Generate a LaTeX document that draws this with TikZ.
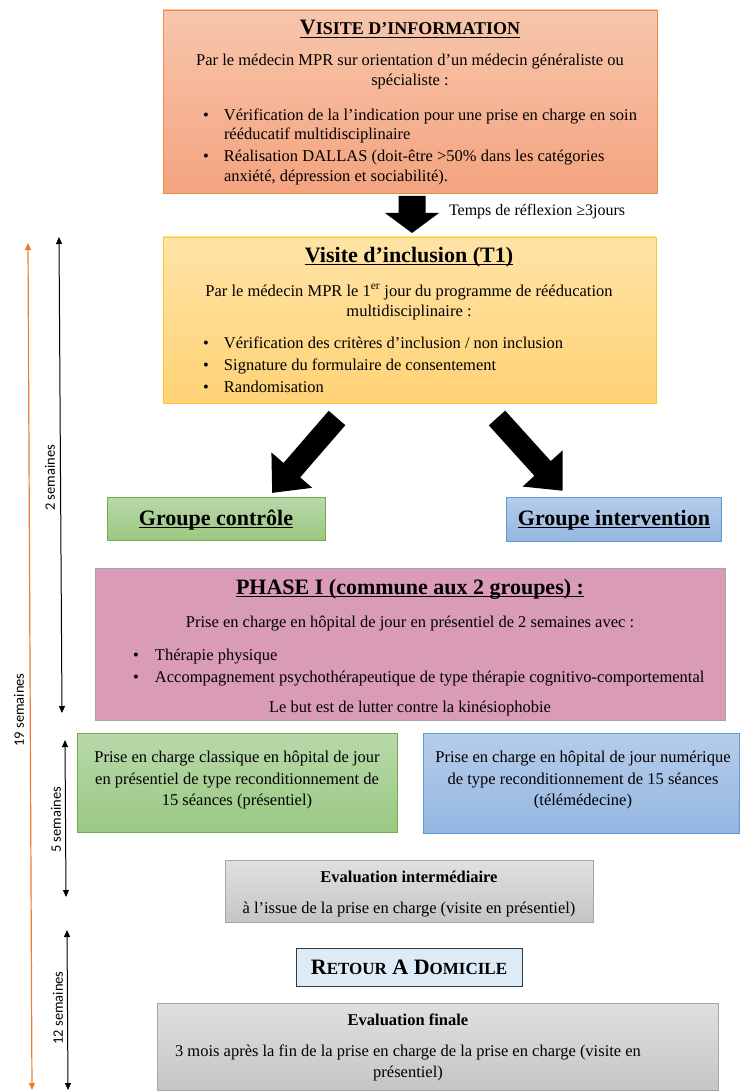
\documentclass[tikz,border=0pt]{standalone}
\usepackage{fontspec}
\setmainfont{Liberation Serif}
\newfontfamily\calib{Carlito}
\usetikzlibrary{arrows.meta,calc}
\definecolor{infoT}{HTML}{F7C6AC}
\definecolor{infoB}{HTML}{F4A37F}
\definecolor{infoD}{HTML}{F08A4B}
\definecolor{inclT}{HTML}{FFE3A6}
\definecolor{inclB}{HTML}{FFD375}
\definecolor{inclD}{HTML}{FFC62E}
\definecolor{grnT}{HTML}{B8D9AA}
\definecolor{grnB}{HTML}{9BC883}
\definecolor{grnD}{HTML}{70AD47}
\definecolor{bluT}{HTML}{B7CDEA}
\definecolor{bluB}{HTML}{94B6E1}
\definecolor{bluD}{HTML}{5B9BD5}
\definecolor{phaseF}{HTML}{D99BB5}
\definecolor{grayD}{HTML}{A6A6A6}
\definecolor{grayT}{HTML}{E0E0E0}
\definecolor{grayB}{HTML}{C5C5C5}
\definecolor{retF}{HTML}{DDEBF7}
\definecolor{retD}{HTML}{2E3B4A}
\definecolor{orangeL}{HTML}{ED7D31}
\newcommand\myul[1]{\setbox0\hbox{#1}\rlap{\rule[-3.4pt]{\wd0}{1.5pt}}\box0}
\newcommand\smcp[1]{{\fontsize{18}{19}\selectfont #1}}
\newcommand\smcq[1]{{\fontsize{17}{18}\selectfont #1}}
\tikzset{
  box/.style={draw, line width=0.9pt, rectangle, inner sep=0pt, outer sep=0pt},
  infobox/.style={box, draw=infoD, top color=infoT, bottom color=infoB},
  inclbox/.style={box, draw=inclD, top color=inclT, bottom color=inclB},
  grnbox/.style={box, draw=grnD, top color=grnT, bottom color=grnB},
  blubox/.style={box, draw=bluD, top color=bluT, bottom color=bluB},
  phasebox/.style={box, draw=grayD, fill=phaseF},
  graybox/.style={box, draw=grayD, top color=grayT, bottom color=grayB},
  retbox/.style={box, draw=retD, fill=retF},
  txt/.style={inner sep=0pt, outer sep=0pt, font=\fontsize{16.5}{19}\selectfont},
  ctxt/.style={txt, anchor=base},
  ltxt/.style={txt, anchor=base west},
  btxt/.style={txt, anchor=base, font=\fontsize{16.5}{19}\selectfont\bfseries},
  ttl/.style={inner sep=0pt, outer sep=0pt, anchor=base, font=\fontsize{22}{24}\selectfont\bfseries},
  grp/.style={inner sep=0pt, outer sep=0pt, anchor=base, font=\fontsize{22}{24}\selectfont\bfseries},
  side/.style={inner sep=0pt, outer sep=0pt, rotate=90, font=\calib\fontsize{14.5}{16}\selectfont},
  timeline/.style={line width=1pt, {Triangle[length=7pt,width=6pt]}-{Triangle[length=7pt,width=6pt]}},
  otimeline/.style={line width=1.2pt, draw=orangeL, {Triangle[length=7pt,width=6pt]}-{Triangle[length=7pt,width=6pt]}},
  pics/barrow/.style n args={4}{code={\fill[black] (0,-#2) -- ({#1-#4},-#2) -- ({#1-#4},-#3) -- (#1,0) -- ({#1-#4},#3) -- ({#1-#4},#2) -- (0,#2) -- cycle;}}
}
\newcommand\bul{\makebox[21pt][l]{\textbullet}}
\begin{document}
\begin{tikzpicture}[x=1pt,y=-1pt]
\useasboundingbox (0,0) rectangle (740,1091);
% boxes
\node[infobox, minimum width=494pt, minimum height=183pt] (info) at (410,101.5) {};
\node[inclbox, minimum width=493pt, minimum height=166pt] (incl) at (409.5,320) {};
\node[grnbox, minimum width=218pt, minimum height=43pt] (gc) at (216,518.5) {};
\node[blubox, minimum width=215pt, minimum height=44pt] (gi) at (613.5,519) {};
\node[phasebox, minimum width=630pt, minimum height=152pt] (phase) at (410,644) {};
\node[grnbox, minimum width=320pt, minimum height=99pt] (pgc) at (237,782.5) {};
\node[blubox, minimum width=316pt, minimum height=100pt] (pgi) at (581,783) {};
\node[graybox, minimum width=368pt, minimum height=62pt] (evi) at (409,891) {};
\node[retbox, minimum width=226pt, minimum height=38pt] (ret) at (409,967) {};
\node[graybox, minimum width=561pt, minimum height=87pt] (evf) at (437.5,1046.5) {};

% info text
\node[ttl] (infoT) at (410,35) {\myul{V\smcp{ISITE D’INFORMATION}}};
\node[ctxt] (info1) at (410,66) {Par le médecin MPR sur orientation d’un médecin généraliste ou};
\node[ctxt] (info2) at (410,86) {spécialiste :};
\node[ltxt] (info3) at (203,121) {\bul Vérification de la l’indication pour une prise en charge en soin};
\node[ltxt] (info4) at (224,140) {rééducatif multidisciplinaire};
\node[ltxt] (info5) at (203,162) {\bul Réalisation DALLAS (doit-être >50\% dans les catégories};
\node[ltxt] (info6) at (224,182) {anxiété, dépression et sociabilité).};

% arrow info -> incl
\pic[rotate=-90] at ($(info.south)+(2,3)$) {barrow={37}{13.5}{27}{20}};
\node[txt, anchor=base west, font=\fontsize{16}{18}\selectfont] (temps) at (449,216) {Temps de réflexion ≥3jours};

% incl text
\node[ttl] (inclT) at (409,262) {\myul{Visite d’inclusion (T1)}};
\node[ctxt] (incl1) at (409,296) {Par le médecin MPR le 1\textsuperscript{er} jour du programme de rééducation};
\node[ctxt] (incl2) at (409,316) {multidisciplinaire :};
\node[ltxt] (incl3) at (203,348) {\bul Vérification des critères d’inclusion / non inclusion};
\node[ltxt] (incl4) at (203,370) {\bul Signature du formulaire de consentement};
\node[ltxt] (incl5) at (203,392) {\bul Randomisation};

% diagonal arrows
\pic[rotate=-130.9] at ($(incl.south)+(-72.5,15)$) {barrow={99}{11}{27}{30}};
\pic[rotate=-47.9] at ($(incl.south)+(87.5,15)$) {barrow={98}{11}{27}{30}};

% groups
\node[grp] (gcT) at (216,525) {\myul{Groupe contrôle}};
\node[grp] (giT) at (614,525) {\myul{Groupe intervention}};

% phase
\node[ttl] (phT) at (410,594) {\myul{PHASE I (commune aux 2 groupes) :}};
\node[ctxt] (ph1) at (410,627) {Prise en charge en hôpital de jour en présentiel de 2 semaines avec :};
\node[ltxt] (ph2) at (133,660) {\makebox[22pt][l]{\textbullet}Thérapie physique};
\node[ltxt] (ph3) at (133,682) {\makebox[22pt][l]{\textbullet}Accompagnement psychothérapeutique de type thérapie cognitivo-comportemental};
\node[ctxt] (ph4) at (410,712) {Le but est de lutter contre la kinésiophobie};

% second phase boxes
\node[ctxt] (pgc1) at (237,762) {Prise en charge classique en hôpital de jour};
\node[ctxt] (pgc2) at (237,784) {en présentiel de type reconditionnement de};
\node[ctxt] (pgc3) at (237,805) {15 séances (présentiel)};
\node[ctxt] (pgi1) at (583,762) {Prise en charge en hôpital de jour numérique};
\node[ctxt] (pgi2) at (583,784) {de type reconditionnement de 15 séances};
\node[ctxt] (pgi3) at (583,805) {(télémédecine)};

% evaluation intermediaire
\node[btxt] (evi1) at (409,882) {Evaluation intermédiaire};
\node[ctxt] (evi2) at (409,913) {à l’issue de la prise en charge (visite en présentiel)};

% retour
\node[grp] (retT) at (409,974) {R\smcq{ETOUR} A D\smcq{OMICILE}};

% evaluation finale
\node[btxt] (evf1) at (408,1025) {Evaluation finale};
\node[ctxt] (evf2) at (408,1056) {3 mois après la fin de la prise en charge de la prise en charge (visite en};
\node[ctxt] (evf3) at (408,1077) {présentiel)};

% timelines
\coordinate (o1) at (28,243);
\coordinate (o2) at (32,1090);
\coordinate (t1a) at (59,237);
\coordinate (t1b) at (62,713);
\coordinate (t2a) at (65,740);
\coordinate (t2b) at (66,897);
\coordinate (t3a) at (67,930);
\coordinate (t3b) at (68,1090);
\draw[otimeline] (o1) -- (o2);
\draw[timeline] (t1a) -- (t1b);
\draw[timeline] (t2a) -- (t2b);
\draw[timeline] (t3a) -- (t3b);
\node[side] (l19) at (19,710) {19 semaines};
\node[side] (l2) at (50,478) {2 semaines};
\node[side] (l5) at (56,820) {5 semaines};
\node[side] (l12) at (58,1008) {12 semaines};
\end{tikzpicture}
\end{document}
